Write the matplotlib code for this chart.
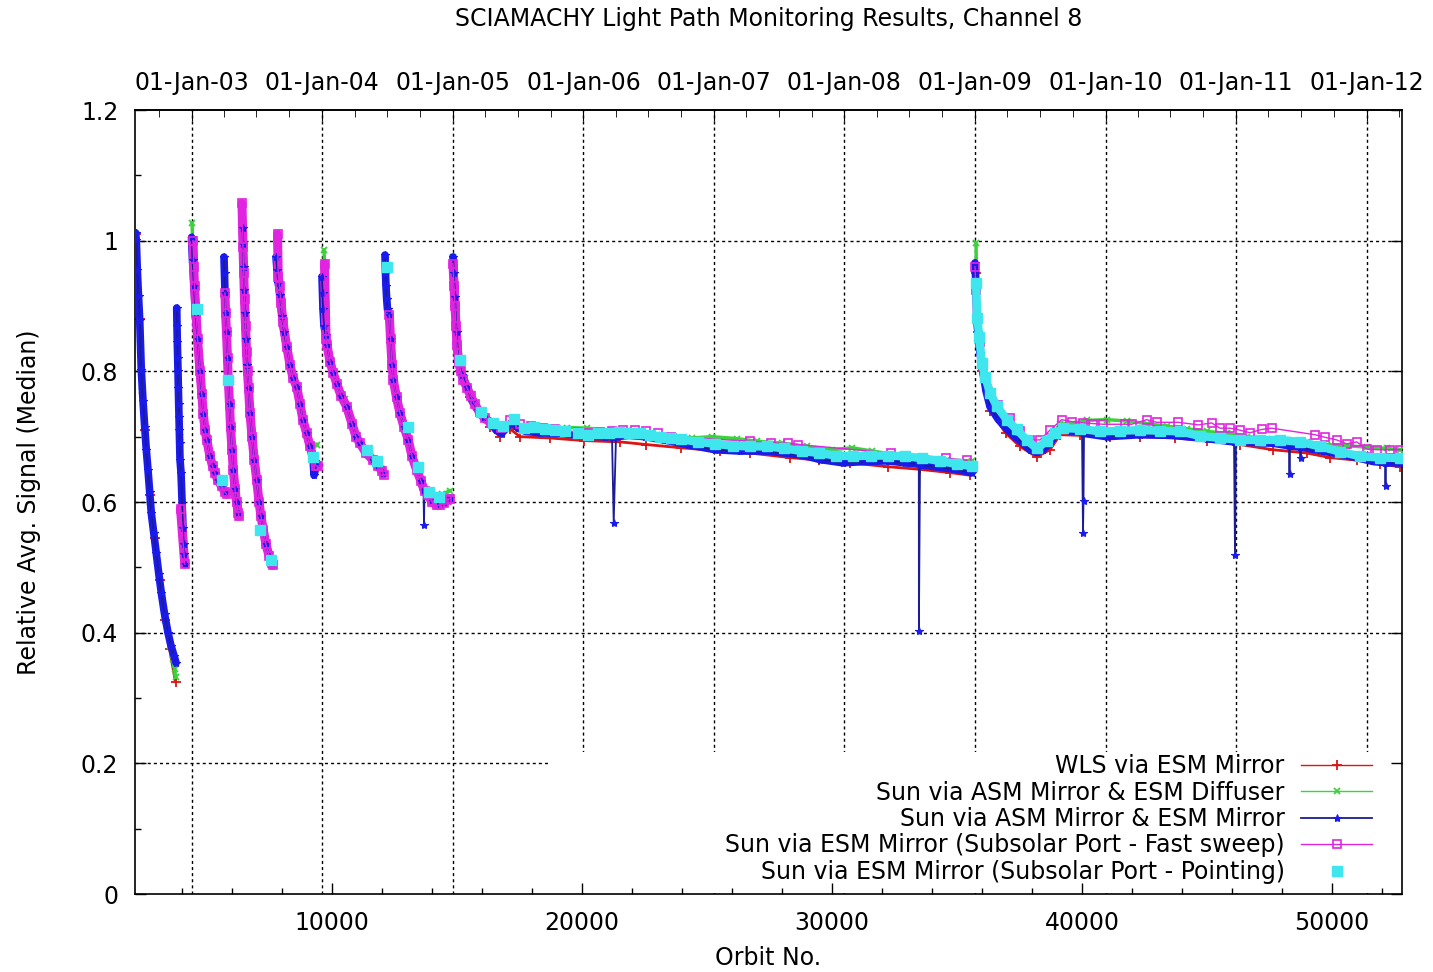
import numpy as np
import matplotlib
matplotlib.use("Agg")
import matplotlib.pyplot as plt
from matplotlib.patches import Rectangle
from matplotlib.ticker import FixedLocator, MultipleLocator, FuncFormatter
import datetime as dt

# ------------------------------------------------------------------ data
TITLE = "SCIAMACHY Light Path Monitoring Results, Channel 8"
X_LABEL = "Orbit No."
Y_LABEL = "Relative Avg. Signal (Median)"
SERIES_LABELS = ["WLS via ESM Mirror",
                 "Sun via ASM Mirror & ESM Diffuser",
                 "Sun via ASM Mirror & ESM Mirror",
                 "Sun via ESM Mirror (Subsolar Port - Fast sweep)",
                 "Sun via ESM Mirror (Subsolar Port - Pointing)"]

DATE_LABELS = ["01-Jan-03", "01-Jan-04", "01-Jan-05", "01-Jan-06", "01-Jan-07",
               "01-Jan-08", "01-Jan-09", "01-Jan-10", "01-Jan-11", "01-Jan-12"]
DATE_ORBITS = [4385, 9605, 14838, 20058, 25277, 30497, 35731, 40950, 46170, 51389]
ORBITS_PER_DAY = 14.3

# WLS via ESM Mirror (red)
RED_ORBIT = [
    [2140, 2300, 2500, 2700, 2900, 3100, 3300, 3500, 3740],
    [14920, 15120, 15520, 16320, 16720, 17120, 17520, 18720, 20080, 21520, 22560,
     23960, 25520, 26720, 28320, 29480, 30720, 32240, 33520, 34720, 35520],
    [35760, 35840, 36000, 36320, 36960, 37520, 38188, 38720, 39120, 39920, 41120,
     42320, 43720, 44988, 46320, 47640, 48988, 49920, 50988, 51920, 52720],
]
RED_VALUE = [
    [1.010, 0.880, 0.710, 0.610, 0.545, 0.480, 0.420, 0.375, 0.325],
    [0.900, 0.800, 0.760, 0.715, 0.700, 0.712, 0.700, 0.698, 0.694, 0.692, 0.688,
     0.683, 0.678, 0.675, 0.668, 0.664, 0.660, 0.654, 0.650, 0.645, 0.641],
    [0.950, 0.860, 0.800, 0.740, 0.705, 0.685, 0.669, 0.680, 0.703, 0.702, 0.700,
     0.700, 0.698, 0.694, 0.688, 0.680, 0.675, 0.668, 0.664, 0.658, 0.654],
]

# Sun via ASM Mirror & ESM Diffuser (green)
GREEN_ORBIT = [
    [2140, 2400, 2700, 3000, 3300, 3500, 3620, 3700, 3750],
    [3790, 3900, 3960, 4100],
    [4400, 4500, 4700, 5000, 5300, 5600, 5720],
    [5680, 5850, 6050, 6250],
    [6440, 6600, 6800, 7000, 7188, 7400, 7580],
    [7800, 8100, 8500, 8900, 9200, 9400],
    [9680, 9800, 10100, 10500, 11000, 11500, 12000],
    [12150, 12500, 13000, 13500, 14000, 14400, 14700],
    [14840, 15000, 15300, 15600, 16000, 16400, 16800, 17200, 17600, 18400, 19400,
     20200, 21200, 22000, 23000, 24400, 25200, 26200, 27000, 28000, 29000, 30000,
     30800, 31600, 32600, 33600, 34600, 35600],
    [35760, 35800, 35950, 36200, 36500, 36900, 37400, 37900, 38300, 38800, 39100,
     39600, 40200, 41000, 41800, 42600, 43400, 44200, 45000, 45800, 46600, 47400,
     48200, 49000, 49800, 50600, 51400, 52200, 52700],
]
GREEN_VALUE = [
    [1.010, 0.770, 0.600, 0.510, 0.420, 0.380, 0.360, 0.345, 0.332],
    [0.890, 0.700, 0.646, 0.510],
    [1.027, 0.930, 0.815, 0.700, 0.648, 0.627, 0.617],
    [0.970, 0.790, 0.655, 0.585],
    [0.990, 0.815, 0.705, 0.632, 0.560, 0.532, 0.512],
    [0.960, 0.860, 0.785, 0.712, 0.680, 0.688],
    [0.986, 0.860, 0.795, 0.757, 0.703, 0.672, 0.650],
    [0.970, 0.780, 0.700, 0.640, 0.606, 0.612, 0.617],
    [0.975, 0.860, 0.790, 0.765, 0.735, 0.720, 0.708, 0.725, 0.714, 0.712, 0.714,
     0.713, 0.710, 0.708, 0.703, 0.698, 0.700, 0.697, 0.693, 0.690, 0.685, 0.680,
     0.683, 0.678, 0.672, 0.668, 0.664, 0.663],
    [0.996, 0.900, 0.830, 0.770, 0.745, 0.720, 0.700, 0.688, 0.685, 0.695, 0.720,
     0.720, 0.725, 0.726, 0.724, 0.720, 0.716, 0.712, 0.708, 0.705, 0.700, 0.697,
     0.695, 0.692, 0.688, 0.686, 0.684, 0.682, 0.680],
]

# Sun via ASM Mirror & ESM Mirror (blue)
BLUE_ORBIT = [
    [2140, 2172, 2212, 2260, 2308, 2372, 2440, 2508, 2572, 2640, 2708, 2772, 2872,
     2972, 3072, 3172, 3304, 3440, 3560, 3680, 3760],
    [3788, 3800, 3812, 3828, 3840, 3852, 3868, 3880, 3892, 3908, 3920, 3960, 4040,
     4060, 4080, 4120],
    [4380, 4420, 4480, 4540, 4620, 4720, 4780, 4852, 4920, 4988, 5120, 5220, 5320,
     5440, 5588, 5720],
    [5680, 5700, 5720, 5740, 5780, 5820, 5852, 5900, 5940, 6000, 6052, 6120, 6180,
     6252],
    [6420, 6440, 6460, 6488, 6520, 6560, 6600, 6660, 6720, 6800, 6888, 6988, 7080,
     7160, 7252, 7360, 7480, 7588],
    [7760, 7800, 7852, 7920, 8000, 8080, 8188, 8320, 8440, 8588, 8720, 8840, 8988,
     9120, 9240, 9280, 9400],
    [9600, 9620, 9640, 9680, 9740, 9800, 9920, 10052, 10200, 10360, 10588, 10800,
     10960, 11120, 11360, 11652, 11840, 12040],
    [12120, 12140, 12160, 12188, 12220, 12292, 12340, 12400, 12452, 12580, 12720,
     12880, 13052, 13200, 13388, 13560, 13660, 13700, 13852, 14000, 14188, 14320,
     14480, 14600, 14720],
    [14840, 14880, 14920, 14980, 15060, 15200, 15400, 15600, 15820, 16080, 16372,
     16560, 16784, 17000, 17200, 17440, 17748, 18320, 19120, 20080, 20920, 21200,
     21360, 21880, 22520, 23268, 24232, 25320, 26320, 27400, 28784, 29520, 30440,
     31320, 32232, 32920, 33472, 33520, 34320, 34920, 35600],
    [35720, 35760, 35788, 35860, 35920, 36040, 36160, 36320, 36640, 36988, 37320,
     37640, 37920, 38188, 38440, 38720, 38960, 39120, 39520, 40000, 40080, 40988,
     42320, 43640, 44988, 46080, 46160, 47640, 48280, 48320, 48720, 48760, 49640,
     50988, 51640, 52120, 52160, 52720],
]
BLUE_VALUE = [
    [1.012, 1.001, 0.955, 0.915, 0.879, 0.802, 0.755, 0.715, 0.680, 0.649, 0.615,
     0.583, 0.552, 0.522, 0.490, 0.461, 0.428, 0.400, 0.380, 0.365, 0.354],
    [0.897, 0.870, 0.845, 0.820, 0.800, 0.775, 0.750, 0.730, 0.710, 0.690, 0.665,
     0.645, 0.560, 0.535, 0.520, 0.505],
    [1.005, 0.970, 0.930, 0.890, 0.850, 0.800, 0.765, 0.735, 0.710, 0.695, 0.670,
     0.655, 0.644, 0.633, 0.624, 0.615],
    [0.975, 0.950, 0.920, 0.890, 0.860, 0.820, 0.787, 0.750, 0.715, 0.680, 0.649,
     0.620, 0.600, 0.583],
    [1.020, 0.995, 0.960, 0.925, 0.890, 0.850, 0.810, 0.775, 0.736, 0.700, 0.665,
     0.634, 0.600, 0.578, 0.557, 0.535, 0.518, 0.507],
    [0.975, 0.955, 0.935, 0.917, 0.885, 0.860, 0.838, 0.810, 0.790, 0.776, 0.750,
     0.725, 0.705, 0.685, 0.669, 0.641, 0.660],
    [0.945, 0.920, 0.895, 0.870, 0.855, 0.840, 0.815, 0.797, 0.780, 0.763, 0.746,
     0.720, 0.700, 0.690, 0.675, 0.664, 0.655, 0.645],
    [0.978, 0.950, 0.930, 0.910, 0.895, 0.886, 0.850, 0.810, 0.787, 0.760, 0.736,
     0.715, 0.695, 0.670, 0.649, 0.632, 0.618, 0.616, 0.614, 0.603, 0.598, 0.597,
     0.600, 0.605, 0.606],
    [0.975, 0.950, 0.914, 0.860, 0.817, 0.795, 0.776, 0.755, 0.741, 0.730, 0.721,
     0.710, 0.705, 0.715, 0.722, 0.713, 0.708, 0.706, 0.705, 0.701, 0.700, 0.700,
     0.700, 0.702, 0.700, 0.695, 0.688, 0.680, 0.678, 0.678, 0.672, 0.665, 0.660,
     0.662, 0.663, 0.660, 0.658, 0.657, 0.653, 0.650, 0.645],
    [0.966, 0.930, 0.879, 0.850, 0.828, 0.797, 0.770, 0.746, 0.727, 0.712, 0.700,
     0.690, 0.680, 0.676, 0.680, 0.690, 0.705, 0.712, 0.709, 0.707, 0.705, 0.700,
     0.703, 0.702, 0.697, 0.692, 0.692, 0.690, 0.686, 0.686, 0.684, 0.684, 0.678,
     0.668, 0.662, 0.660, 0.660, 0.660],
]
# isolated low outliers of the blue series
BLUE_SPIKE_ORBIT = [13680, 21268, 33476, 40040, 40060, 46120, 48300, 48740, 52140]
BLUE_SPIKE_VALUE = [0.565, 0.568, 0.403, 0.552, 0.601, 0.519, 0.643, 0.667, 0.624]

# Sun via ESM Mirror (Subsolar Port - Fast sweep) (magenta)
MAG_ORBIT = [
    [3940, 4110],
    [4440, 4470, 4500, 4560, 4620, 4720, 4790, 4852, 4920, 4988, 5120, 5220, 5320,
     5440, 5588, 5720, 5780],
    [5720, 5740, 5780, 5820, 5852, 5900, 5940, 6000, 6052, 6120, 6180, 6252, 6280],
    [6400, 6440, 6470, 6500, 6540, 6580, 6620, 6660, 6720, 6800, 6888, 6988, 7080,
     7160, 7252, 7360, 7480, 7588, 7620],
    [7820, 7850, 7900, 7960, 8040, 8188, 8320, 8440, 8588, 8720, 8840, 8988, 9120,
     9240, 9360, 9440],
    [9700, 9760, 9800, 9920, 10052, 10200, 10360, 10588, 10800, 10960, 11120, 11360,
     11652, 11840, 12000, 12060],
    [12292, 12340, 12400, 12452, 12580, 12720, 12880, 13052, 13200, 13388, 13560,
     13700, 13852, 14000, 14188, 14320, 14480, 14600, 14720],
    [14840, 14880, 14920, 14960, 15000, 15060, 15150, 15250, 15400, 15550, 15700,
     15900, 16100, 16372, 16750, 17128, 17500, 17950, 18440, 18900, 19350, 19820,
     20250, 20700, 21200, 21650, 22100, 22576, 23050, 23544, 26720, 27540, 28232,
     28644, 32360, 34576, 35400],
    [35720, 35760, 35800, 35900, 36052, 36652, 37120, 37520, 37920, 38320, 38720,
     39188, 39588, 40052, 40452, 40852, 41720, 41988, 42588, 42988, 43852, 44652,
     45188, 45520, 45920, 46320, 46720, 47188, 47588, 49320, 49720, 50188, 50588,
     50988, 51388, 51788, 52320, 52720],
]
MAG_VALUE = [
    [0.590, 0.505],
    [1.000, 0.960, 0.930, 0.890, 0.850, 0.800, 0.765, 0.735, 0.710, 0.695, 0.670,
     0.655, 0.644, 0.633, 0.624, 0.615, 0.612],
    [0.920, 0.890, 0.860, 0.820, 0.787, 0.750, 0.715, 0.680, 0.649, 0.620, 0.600,
     0.583, 0.578],
    [1.057, 0.990, 0.950, 0.910, 0.870, 0.830, 0.800, 0.775, 0.736, 0.700, 0.665,
     0.634, 0.600, 0.578, 0.557, 0.535, 0.518, 0.507, 0.503],
    [1.010, 0.945, 0.930, 0.905, 0.875, 0.838, 0.810, 0.790, 0.776, 0.750, 0.725,
     0.705, 0.685, 0.669, 0.655, 0.655],
    [0.965, 0.850, 0.840, 0.815, 0.797, 0.780, 0.763, 0.746, 0.720, 0.700, 0.690,
     0.675, 0.664, 0.655, 0.648, 0.642],
    [0.886, 0.850, 0.810, 0.787, 0.760, 0.736, 0.715, 0.695, 0.670, 0.649, 0.632,
     0.617, 0.610, 0.600, 0.595, 0.595, 0.598, 0.603, 0.605],
    [0.965, 0.930, 0.900, 0.870, 0.840, 0.815, 0.800, 0.787, 0.775, 0.762, 0.750,
     0.738, 0.728, 0.721, 0.713, 0.726, 0.719, 0.716, 0.713, 0.711, 0.709, 0.707,
     0.706, 0.707, 0.709, 0.710, 0.710, 0.708, 0.705, 0.700, 0.693, 0.690, 0.690,
     0.688, 0.675, 0.667, 0.664],
    [0.960, 0.925, 0.880, 0.845, 0.810, 0.749, 0.728, 0.708, 0.695, 0.695, 0.710,
     0.726, 0.723, 0.721, 0.720, 0.719, 0.719, 0.719, 0.726, 0.722, 0.722, 0.718,
     0.721, 0.713, 0.713, 0.710, 0.706, 0.711, 0.713, 0.703, 0.699, 0.695, 0.689,
     0.692, 0.681, 0.680, 0.680, 0.680],
]

# Sun via ESM Mirror (Subsolar Port - Pointing) (cyan, points only)
CYAN_ORBIT = [
    [4588, 5588, 5852, 7120, 7548, 9228, 11388, 11788, 12188, 13052, 13452, 13892,
     14292],
    [15128, 15956, 16436, 16852, 17268, 17680, 18096, 18508, 18920, 19336, 19820,
     20236, 20648, 21060, 21472, 21888, 22300, 22716, 23128, 23544, 23956, 24644,
     25336, 26024, 26716, 27404, 28096, 28784, 29476, 30164, 30856, 31544, 32232,
     32924, 33612, 34300, 34992, 35612],
    [35760, 35812, 35892, 35988, 36120, 36320, 36588, 36988, 37388, 37788, 38188,
     38588, 38920, 39252, 39920, 40720, 41520, 42320, 43120, 43920, 44720, 45520,
     46320, 47120, 47920, 48720, 49520, 50320, 51120, 51920, 52720],
]
CYAN_VALUE = [
    [0.896, 0.634, 0.787, 0.557, 0.511, 0.669, 0.680, 0.662, 0.959, 0.715, 0.654,
     0.616, 0.608],
    [0.817, 0.738, 0.721, 0.716, 0.727, 0.713, 0.715, 0.712, 0.710, 0.708, 0.705,
     0.703, 0.705, 0.706, 0.707, 0.706, 0.706, 0.703, 0.700, 0.698, 0.696, 0.692,
     0.689, 0.686, 0.685, 0.685, 0.682, 0.678, 0.675, 0.671, 0.670, 0.671, 0.671,
     0.670, 0.667, 0.663, 0.658, 0.655],
    [0.935, 0.882, 0.853, 0.813, 0.792, 0.767, 0.747, 0.726, 0.711, 0.695, 0.682,
     0.693, 0.706, 0.713, 0.712, 0.708, 0.709, 0.710, 0.709, 0.708, 0.701, 0.698,
     0.695, 0.695, 0.695, 0.692, 0.685, 0.677, 0.670, 0.668, 0.667],
]

X_LIMITS = (2120, 52800)
Y_LIMITS = (0.0, 1.2)
X_MAJOR = [10000, 20000, 30000, 40000, 50000]
Y_MAJOR = [0.0, 0.2, 0.4, 0.6, 0.8, 1.0, 1.2]

# ------------------------------------------------------------------ helpers
def join(seg_o, seg_v):
    xs, ys = [], []
    for o, v in zip(seg_o, seg_v):
        xs += list(o) + [np.nan]
        ys += list(v) + [np.nan]
    return np.array(xs, float), np.array(ys, float)


def join_with_spikes(seg_o, seg_v, sp_o, sp_v):
    xs, ys = [], []
    for o, v in zip(seg_o, seg_v):
        pts = list(zip(o, v)) + [(a, b) for a, b in zip(sp_o, sp_v)
                                 if min(o) <= a <= max(o)]
        pts.sort(key=lambda p: p[0])
        xs += [p[0] for p in pts] + [np.nan]
        ys += [p[1] for p in pts] + [np.nan]
    return np.array(xs, float), np.array(ys, float)


# ------------------------------------------------------------------ style
plt.rcParams["font.family"] = ["DejaVu Sans"]
FS = 17
C_RED = "#dc1414"
C_GREEN = "#3cd23c"
C_BLUE = "#1a1aec"
C_BLUE_LINE = "#1c1c94"
C_MAG = "#e024e0"
C_CYAN = "#40e6ee"

fig = plt.figure(figsize=(14.33, 9.72), dpi=100)
ax = fig.add_axes([135 / 1433, 1 - 894 / 972, 1267 / 1433, 784 / 972])
ax.set_xlim(*X_LIMITS)
ax.set_ylim(*Y_LIMITS)

# grid (drawn manually so the key backdrop can hide it)
grid_kw = dict(color="black", lw=1.0, ls=(0, (2.2, 2.2)), zorder=1.0)
for yv in Y_MAJOR[1:-1]:
    ax.axhline(yv, **grid_kw)
for xv in DATE_ORBITS:
    ax.axvline(xv, **grid_kw)
# white key backdrop (gnuplot key box)
ax.add_patch(Rectangle((0.326, 0.0015), 0.6725, 0.1795, transform=ax.transAxes,
                       facecolor="white", edgecolor="none", zorder=1.2))

# red
rx, ry = join(RED_ORBIT, RED_VALUE)
ax.plot(rx, ry, color=C_RED, lw=2.0, zorder=2.0)
ax.plot(rx, ry, color=C_RED, lw=1.0, marker="+", ms=7, mew=1.3, zorder=2.1,
        label=SERIES_LABELS[0])
# green
gx, gy = join(GREEN_ORBIT, GREEN_VALUE)
ax.plot(gx, gy, color=C_GREEN, lw=2.5, zorder=3.0)
ax.plot(gx, gy, color=C_GREEN, lw=1.0, marker="x", ms=5, mew=1.3, zorder=3.1,
        label=SERIES_LABELS[1])
# blue (dense band + thin line with outliers)
bx, by = join(BLUE_ORBIT, BLUE_VALUE)
ax.plot(bx, by, color=C_BLUE, lw=5.5, solid_capstyle="round", zorder=4.0)
# magenta dense band in early period
mx, my = join(MAG_ORBIT, MAG_VALUE)
ax.plot(mx, np.where(mx < 16500, my, np.nan), color=C_MAG, lw=6.5,
        solid_capstyle="round", zorder=4.5)
bsx, bsy = join_with_spikes(BLUE_ORBIT, BLUE_VALUE, BLUE_SPIKE_ORBIT, BLUE_SPIKE_VALUE)
ax.plot(bsx, bsy, color=C_BLUE_LINE, lw=1.3, marker="*", ms=6, mew=0.8,
        mfc=C_BLUE, mec=C_BLUE, zorder=4.6, label=SERIES_LABELS[2])
# magenta open squares
ax.plot(mx, my, color=C_MAG, lw=1.0, marker="s", ms=6, mfc="none", mew=1.2,
        zorder=5.0, label=SERIES_LABELS[3])
# cyan
cx, cy = join(CYAN_ORBIT[1:], CYAN_VALUE[1:])
ax.plot(cx, np.where(cx >= 23500, cy, np.nan), color=C_CYAN, lw=6,
        solid_capstyle="butt", zorder=6.0)
cax, cay = join(CYAN_ORBIT, CYAN_VALUE)
ax.plot(cax, cay, ls="none", color=C_CYAN, marker="s", ms=6.5, mec=C_CYAN,
        zorder=6.1, label=SERIES_LABELS[4])

# axes / ticks
ax.set_xticks(X_MAJOR)
ax.xaxis.set_minor_locator(MultipleLocator(2000))
ax.set_yticks(Y_MAJOR)
ax.yaxis.set_major_formatter(FuncFormatter(lambda v, p: "%g" % v))
ax.yaxis.set_minor_locator(MultipleLocator(0.1))
ax.tick_params(axis="both", which="both", direction="in", labelsize=FS, width=1.0,
               colors="black")
ax.tick_params(axis="both", which="major", length=8)
ax.tick_params(axis="both", which="minor", length=4)
ax.tick_params(axis="x", top=False, pad=12.5)
ax.tick_params(axis="y", right=True, pad=12)
for s in ax.spines.values():
    s.set_linewidth(1.2)

# top date axis
secax = ax.secondary_xaxis("top")
secax.set_xticks(DATE_ORBITS, labels=DATE_LABELS)
d0 = dt.date(2003, 1, 1)
q_orbits = []
for yr in range(2002, 2013):
    for mo in (1, 4, 7, 10):
        d = dt.date(yr, mo, 1)
        o = DATE_ORBITS[0] + (d - d0).days * ORBITS_PER_DAY
        if mo != 1 and X_LIMITS[0] < o < X_LIMITS[1]:
            q_orbits.append(o)
secax.xaxis.set_minor_locator(FixedLocator(q_orbits))
secax.tick_params(axis="x", which="both", direction="in", labelsize=FS, pad=10.5)
secax.tick_params(axis="x", which="major", length=8)
secax.tick_params(axis="x", which="minor", length=5)
secax.spines["top"].set_linewidth(1.2)

# labels
ax.set_xlabel(X_LABEL, fontsize=FS)
ax.xaxis.set_label_coords(0.5, -0.066)
ax.set_ylabel(Y_LABEL, fontsize=FS)
ax.yaxis.set_label_coords(-0.074, 0.5)
fig.text(768.5 / 1433, 1 - 19 / 972, TITLE, ha="center", va="center", fontsize=FS)

# key
leg = ax.legend(loc="lower right", bbox_to_anchor=(0.9763, 0.013),
                markerfirst=False, frameon=False, fontsize=FS, numpoints=1,
                handlelength=3.0, handletextpad=0.7, labelspacing=0.1,
                borderpad=0.0, borderaxespad=0.0)
leg.set_zorder(10)

fig.savefig("out.png", dpi=100)
